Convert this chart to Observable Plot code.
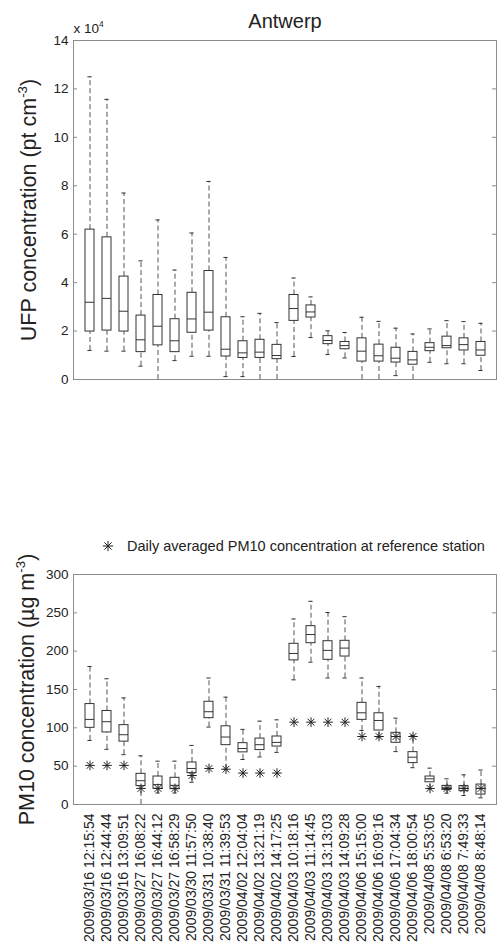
<!DOCTYPE html>
<html><head><meta charset="utf-8">
<script src="https://cdn.jsdelivr.net/npm/d3@7"></script>
<script src="https://cdn.jsdelivr.net/npm/@observablehq/plot@0.6"></script>
<style>
body{margin:0;background:#fff;font-family:"Liberation Sans",Arial,sans-serif;}
#wrap{position:relative;width:498px;height:950px;overflow:hidden;background:#fff;}
#top{position:absolute;left:0;top:0;}
#bottom{position:absolute;left:0;top:555px;}
#legend{position:absolute;left:101px;top:537px;font-size:14.5px;color:#222;white-space:nowrap;display:flex;align-items:center;height:18px;}
#legend svg{margin-right:12px;}
</style></head><body>
<div id="wrap"><div id="top"></div><div id="legend"></div><div id="bottom"></div></div>
<script>
// ---- categories (measurement start times) ----
const labels = [
  "2009/03/16 12:15:54","2009/03/16 12:44:44","2009/03/16 13:09:51",
  "2009/03/27 16:08:22","2009/03/27 16:44:12","2009/03/27 16:58:29",
  "2009/03/30 11:57:50","2009/03/31 10:38:40","2009/03/31 11:39:53",
  "2009/04/02 12:04:04","2009/04/02 13:21:19","2009/04/02 14:17:25",
  "2009/04/03 10:18:16","2009/04/03 11:14:45","2009/04/03 13:13:03",
  "2009/04/03 14:09:28","2009/04/06 15:15:00","2009/04/06 16:09:16",
  "2009/04/06 17:04:34","2009/04/06 18:00:54","2009/04/08 5:53:05",
  "2009/04/08 6:53:20","2009/04/08 7:49:33","2009/04/08 8:48:14"
];

// ---- UFP (x 10^4 pt/cm3) box statistics ----
const ufpLow  = [1.2,1.17,1.17,0.55,0,0.78,0.96,0.96,0.12,0.12,0,0,0.95,1.73,1.03,0.89,0,0,0.16,0,0.71,0.65,0.65,0.37];
const ufpQ1   = [1.98,2.02,1.98,1.13,1.41,1.13,1.93,2.02,0.95,0.89,0.89,0.84,2.42,2.56,1.46,1.25,0.74,0.74,0.7,0.61,1.17,1.29,1.2,0.98];
const ufpMed  = [3.19,3.35,2.82,1.64,2.2,1.6,2.5,2.78,1.25,1.1,1.13,0.99,2.93,2.79,1.61,1.4,1.17,0.98,0.88,0.81,1.33,1.4,1.44,1.22];
const ufpQ3   = [6.19,5.87,4.25,2.64,3.49,2.49,3.58,4.48,2.57,1.58,1.64,1.43,3.49,3.06,1.79,1.55,1.7,1.44,1.31,1.14,1.5,1.77,1.7,1.55];
const ufpHigh = [12.5,11.57,7.7,4.9,6.59,4.52,6.05,8.18,5.04,2.59,2.73,2.35,4.19,3.41,2.01,1.94,2.57,2.4,2.12,1.88,2.09,2.43,2.39,2.32];

// ---- PM10 (ug/m3) box statistics ----
const pmLow  = [83.5,72,65,0,15,15,29,101,46,58.7,62,68,162.6,185.6,165,165,96.5,87.8,69,48,20.4,14.8,11.7,8.7];
const pmQ1   = [100,94,82,24,20.4,20,40.9,112.6,77.4,68,71,75.6,188,210.4,188.7,193,110.4,96.5,80.5,54,29,19,17.4,13];
const pmMed  = [111,108,91,31,26,25,47,121,88,73,78,81,197,221.7,201,204,119.6,109.6,88.7,61.7,33.5,21.7,21,21];
const pmQ3   = [131,122,103.5,40,36.5,34.8,54.8,134,102,80,86,88.7,209.6,232.6,213,213.5,132.6,119,93.5,68.3,36.5,24.3,24,26];
const pmHigh = [180,164,139,63.5,56.5,56.5,77,165,140,98,108.7,110.4,242,265,250.4,245,165,154,112.6,90,47.4,33.5,38.7,45];
// daily averaged PM10 at reference station
const pmRef  = [51,51,51,21,21,21,37.8,47,46,41,41,41,107.4,107.4,107.4,107.4,88.7,88.7,88.7,88.7,21,21,21,21];

// ---- tick values ----
const ufpTicks = [0,2,4,6,8,10,12,14];
const pmTicks = [0,50,100,150,200,250,300];

const title = "Antwerp";
const ufpLabel = "UFP concentration (pt cm\u207B\u00B3)";
const pmLabel = "PM10 concentration (\u00B5g m\u207B\u00B3)";
const expLabel = "x 10\u2074";
const legendText = "Daily averaged PM10 concentration at reference station";

const BOX = "#333", WH = "#555", FRAME = "#8c8c8c", TXT = "#222";
const W = 498, ML = 73, MR = 2;
const frameW = W - ML - MR;

function rowsOf(low, q1, med, q3, high, ref) {
  return labels.map((label, i) => ({label, low: low[i], q1: q1[i], med: med[i], q3: q3[i], high: high[i], ref: ref ? ref[i] : null}));
}

function boxMarks(rows) {
  return [
    Plot.ruleX(rows, {x: "label", y1: "q3", y2: "high", stroke: WH, strokeDasharray: "5,3"}),
    Plot.ruleX(rows, {x: "label", y1: "low", y2: "q1", stroke: WH, strokeDasharray: "5,3"}),
    Plot.tickY(rows, {x: "label", y: "high", stroke: BOX, insetLeft: 2.4, insetRight: 2.4}),
    Plot.tickY(rows, {x: "label", y: "low", stroke: BOX, insetLeft: 2.4, insetRight: 2.4}),
    Plot.barY(rows, {x: "label", y1: "q1", y2: "q3", fill: "white", stroke: BOX, strokeWidth: 1}),
    Plot.tickY(rows, {x: "label", y: "med", stroke: BOX})
  ];
}

function tickMarks(ticks) {
  return [
    Plot.ruleY(ticks, {y: d => d, insetRight: frameW - 4, stroke: FRAME}),
    Plot.ruleY(ticks, {y: d => d, insetLeft: frameW - 4, stroke: FRAME})
  ];
}

const xScale = {type: "band", domain: labels, paddingInner: 0.5, paddingOuter: 0.23};

// ---------- top panel ----------
const ufpRows = rowsOf(ufpLow, ufpQ1, ufpMed, ufpQ3, ufpHigh);
const topSvg = Plot.plot({
  width: W, height: 400,
  marginLeft: ML, marginRight: MR, marginTop: 40, marginBottom: 21,
  style: {fontFamily: "'Liberation Sans', Arial, sans-serif", color: TXT, background: "white"},
  x: {...xScale, axis: null},
  y: {domain: [0, 14], label: null},
  marks: [
    ...boxMarks(ufpRows),
    ...tickMarks(ufpTicks),
    Plot.frame({stroke: FRAME}),
    Plot.axisY({ticks: ufpTicks, tickSize: 0, tickPadding: 5, fontSize: 13.5, label: null}),
    Plot.text([title], {frameAnchor: "top", dy: -13, lineAnchor: "bottom", fontSize: 20, fill: TXT}),
    Plot.text([expLabel], {frameAnchor: "top-left", dy: -8, lineAnchor: "bottom", textAnchor: "start", fontSize: 13.5, fill: TXT}),
    Plot.text([ufpLabel], {frameAnchor: "left", dx: -44, rotate: -90, textAnchor: "middle", lineAnchor: "middle", fontSize: 21.5, fill: TXT})
  ]
});
document.getElementById("top").appendChild(topSvg);

// ---------- bottom panel ----------
const pmRows = rowsOf(pmLow, pmQ1, pmMed, pmQ3, pmHigh, pmRef);
const botSvg = Plot.plot({
  width: W, height: 395,
  marginLeft: ML, marginRight: MR, marginTop: 19, marginBottom: 146,
  style: {fontFamily: "'Liberation Sans', Arial, sans-serif", color: TXT, background: "white"},
  x: {...xScale, label: null},
  y: {domain: [0, 300], label: null},
  marks: [
    ...boxMarks(pmRows),
    Plot.dot(pmRows, {x: "label", y: "ref", symbol: "plus", r: 3.2, stroke: "#222", strokeWidth: 1}),
    Plot.dot(pmRows, {x: "label", y: "ref", symbol: "times", r: 3.2, stroke: "#222", strokeWidth: 1}),
    ...tickMarks(pmTicks),
    Plot.frame({stroke: FRAME}),
    Plot.axisY({ticks: pmTicks, tickSize: 0, tickPadding: 5, fontSize: 13.5, label: null}),
    Plot.axisX({tickRotate: -90, tickSize: 0, tickPadding: 9, fontSize: 14, label: null}),
    Plot.text([pmLabel], {frameAnchor: "left", dx: -46, rotate: -90, textAnchor: "middle", lineAnchor: "middle", fontSize: 21.5, fill: TXT})
  ]
});
document.getElementById("bottom").appendChild(botSvg);

// ---------- superscripts as tspans ----------
const supMap = {"\u207B": "-", "\u00B3": "3", "\u2074": "4"};
function supify(svg) {
  svg.querySelectorAll("text").forEach(t => {
    const s = t.textContent;
    if (![...s].some(c => supMap[c])) return;
    const fs = parseFloat(t.getAttribute("font-size") || getComputedStyle(t).fontSize) || 14;
    const runs = [];
    for (const c of s) {
      const sup = !!supMap[c];
      if (runs.length && runs[runs.length - 1].sup === sup) runs[runs.length - 1].txt += sup ? supMap[c] : c;
      else runs.push({sup, txt: sup ? supMap[c] : c});
    }
    while (t.firstChild) t.removeChild(t.firstChild);
    const ns = "http://www.w3.org/2000/svg";
    let shifted = false;
    runs.forEach(r => {
      const ts = document.createElementNS(ns, "tspan");
      ts.textContent = r.txt;
      const rise = fs * 0.42;
      if (r.sup) { ts.setAttribute("dy", -rise); ts.setAttribute("font-size", fs * 0.62); shifted = true; }
      else if (shifted) { ts.setAttribute("dy", rise); shifted = false; }
      t.appendChild(ts);
    });
  });
}
supify(topSvg);
supify(botSvg);

// ---------- legend ----------
const leg = d3.select("#legend");
const sw = leg.append("svg").attr("width", 14).attr("height", 14);
sw.append("path").attr("transform", "translate(7,7)").attr("d", d3.symbol(d3.symbolPlus, 36)()).attr("fill", "none").attr("stroke", "#222");
sw.append("path").attr("transform", "translate(7,7)").attr("d", d3.symbol(d3.symbolTimes, 36)()).attr("fill", "none").attr("stroke", "#222");
leg.append("span").text(legendText);
</script>
</body></html>
